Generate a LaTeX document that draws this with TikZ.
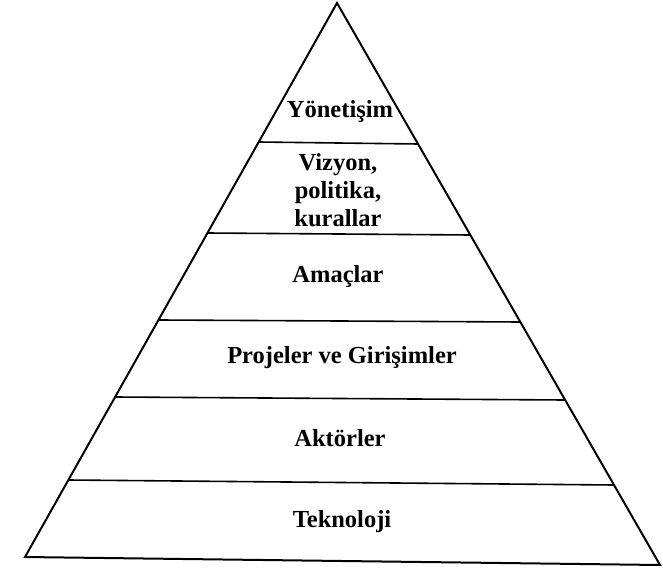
\documentclass[tikz,border=0pt]{standalone}
\usepackage{fontspec}
\setmainfont{Liberation Serif}
\usetikzlibrary{calc}
\usetikzlibrary{positioning}

\begin{document}
\begin{tikzpicture}[x=1pt,y=-1pt,line width=2pt]
\tikzstyle{layer}=[font=\fontsize{24.5}{28}\selectfont\bfseries,align=center,inner sep=0pt]
\useasboundingbox (0,0) rectangle (663,567);
% corners of the pyramid
\coordinate (top) at (337,3);
\coordinate (bl) at (25,557);
\coordinate (br) at (660,565);
\draw[line join=miter] (top) -- (bl) -- (br) -- cycle;
% dividing lines
\foreach \yl/\yr [count=\i] in {142/144,233/235,320/322,397/400,480/485} {
  \coordinate (l\i) at ($(top)!{(\yl-3)/554}!(bl)$);
  \coordinate (r\i) at ($(top)!{(\yr-3)/562}!(br)$);
  \draw[line width=1.6pt] (l\i) -- (r\i);
}
% labels
\node [layer] (gov) at (340,112) {Yönetişim};
\node [layer] (vision) at (338,190) {Vizyon,\\politika,\\kurallar};
\node [layer] (goals) at (338,277) {Amaçlar};
\node [layer] (proj) at (342,358) {Projeler ve Girişimler};
\node [layer] (actors) at (340,438) {Aktörler};
\node [layer] (tech) at (342,522) {Teknoloji};
\end{tikzpicture}
\end{document}
